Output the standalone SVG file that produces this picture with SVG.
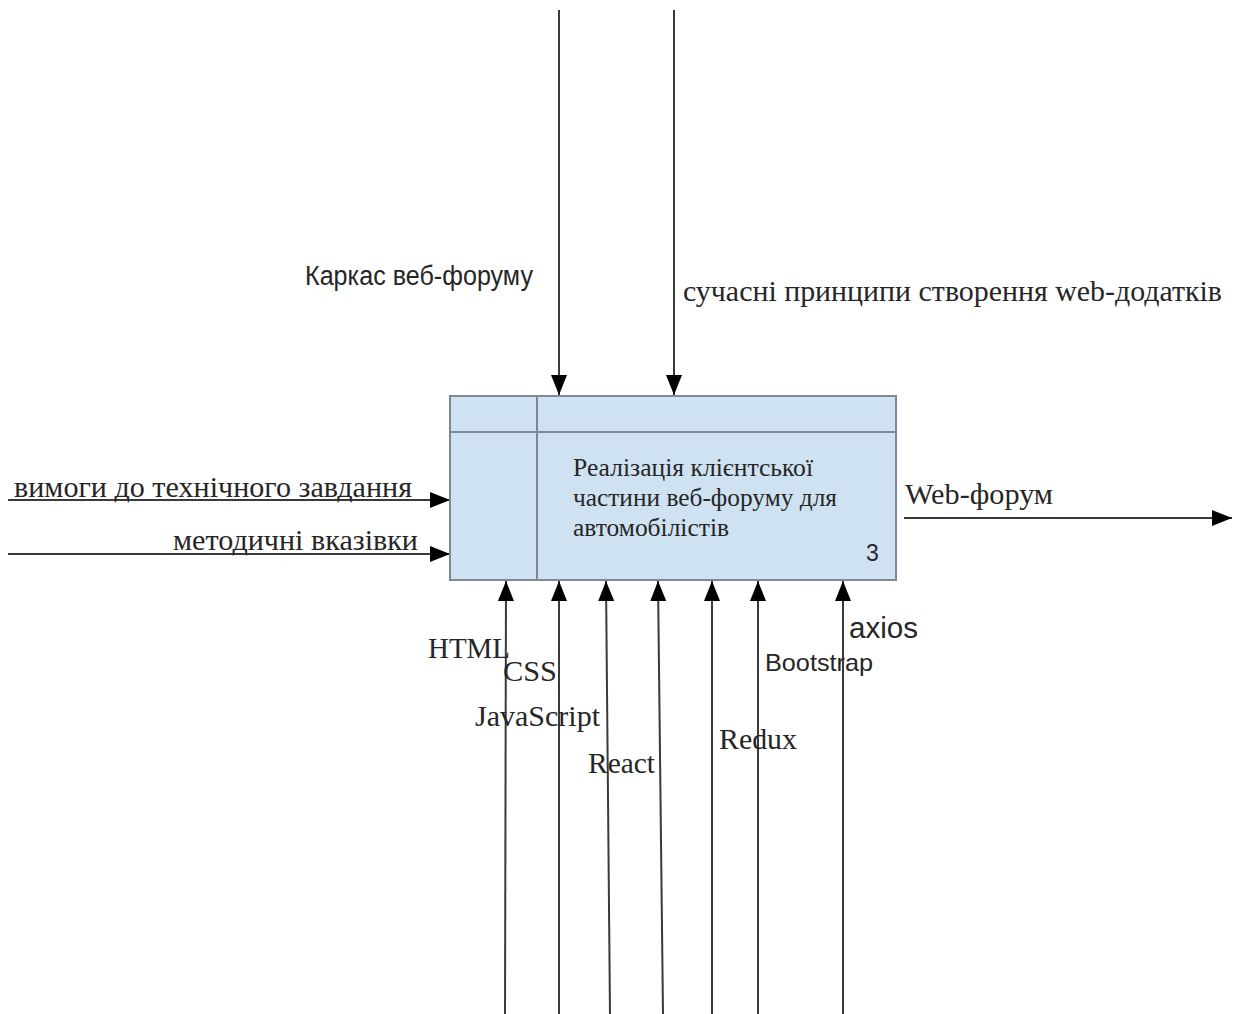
<svg xmlns="http://www.w3.org/2000/svg" width="1236" height="1014" viewBox="0 0 1236 1014">
<style>
.ln{stroke:#3a3a3a;stroke-width:2;fill:none}
.sf{font-family:"Liberation Serif",serif;fill:#262626}
.ss{font-family:"Liberation Sans",sans-serif;fill:#262626}
</style>
<defs>
<marker id="ah" viewBox="0 0 20 16" refX="20" refY="8" markerWidth="20" markerHeight="16" markerUnits="userSpaceOnUse" orient="auto">
<path d="M0,0 L20,8 L0,16 Z" fill="#000"/>
</marker>
</defs>
<rect width="1236" height="1014" fill="#fff"/>
<g id="connectors">
<line class="ln" x1="559" y1="10" x2="559" y2="395" marker-end="url(#ah)"/>
<line class="ln" x1="674" y1="10" x2="674" y2="395" marker-end="url(#ah)"/>
<line class="ln" x1="8" y1="500" x2="450" y2="500" marker-end="url(#ah)"/>
<line class="ln" x1="8" y1="554" x2="450" y2="554" marker-end="url(#ah)"/>
<line class="ln" x1="904" y1="518" x2="1232" y2="518" marker-end="url(#ah)"/>
<line class="ln" x1="505" y1="1014" x2="506" y2="581" marker-end="url(#ah)"/>
<line class="ln" x1="559" y1="1014" x2="559" y2="581" marker-end="url(#ah)"/>
<line class="ln" x1="610" y1="1014" x2="606" y2="581" marker-end="url(#ah)"/>
<line class="ln" x1="663" y1="1014" x2="658" y2="581" marker-end="url(#ah)"/>
<line class="ln" x1="712" y1="1014" x2="712" y2="581" marker-end="url(#ah)"/>
<line class="ln" x1="758" y1="1014" x2="758" y2="581" marker-end="url(#ah)"/>
<line class="ln" x1="843" y1="1014" x2="843" y2="581" marker-end="url(#ah)"/>
</g>
<g id="labels">
<text class="ss" x="305" y="285" font-size="27" textLength="228" lengthAdjust="spacingAndGlyphs">Каркас веб-форуму</text>
<text class="sf" x="683" y="301" font-size="29" textLength="539" lengthAdjust="spacingAndGlyphs">сучасні принципи створення web-додатків</text>
<text class="sf" x="14" y="497" font-size="29" textLength="398" lengthAdjust="spacingAndGlyphs">вимоги до технічного завдання</text>
<text class="sf" x="173" y="550" font-size="29" textLength="245" lengthAdjust="spacingAndGlyphs">методичні вказівки</text>
<text class="sf" x="905" y="504" font-size="29" textLength="148" lengthAdjust="spacingAndGlyphs">Web-форум</text>
<text class="sf" x="428" y="658" font-size="29" textLength="82" lengthAdjust="spacingAndGlyphs">HTML</text>
<text class="sf" x="503" y="681" font-size="29" textLength="54" lengthAdjust="spacingAndGlyphs">CSS</text>
<text class="sf" x="475" y="726" font-size="29" textLength="125" lengthAdjust="spacingAndGlyphs">JavaScript</text>
<text class="sf" x="588" y="773" font-size="29" textLength="67" lengthAdjust="spacingAndGlyphs">React</text>
<text class="sf" x="719" y="749" font-size="29" textLength="78" lengthAdjust="spacingAndGlyphs">Redux</text>
<text class="ss" x="765" y="671" font-size="24" textLength="108" lengthAdjust="spacingAndGlyphs">Bootstrap</text>
<text class="ss" x="849" y="638" font-size="29" textLength="69" lengthAdjust="spacingAndGlyphs">axios</text>
</g>
<g id="node-3">
<rect x="450" y="396" width="446" height="184" fill="#cfe2f2" stroke="#7d8a96" stroke-width="2"/>
<line x1="450" y1="432" x2="896" y2="432" stroke="#7d8a96" stroke-width="2"/>
<line x1="537" y1="396" x2="537" y2="580" stroke="#7d8a96" stroke-width="2"/>
<text class="sf" font-size="25">
<tspan x="573" y="476" textLength="240" lengthAdjust="spacingAndGlyphs">Реалізація клієнтської</tspan>
<tspan x="573" y="506" textLength="264" lengthAdjust="spacingAndGlyphs">частини веб-форуму для</tspan>
<tspan x="573" y="536" textLength="156" lengthAdjust="spacingAndGlyphs">автомобілістів</tspan>
</text>
<text class="ss" x="866" y="561" font-size="23">3</text>
</g>
</svg>
